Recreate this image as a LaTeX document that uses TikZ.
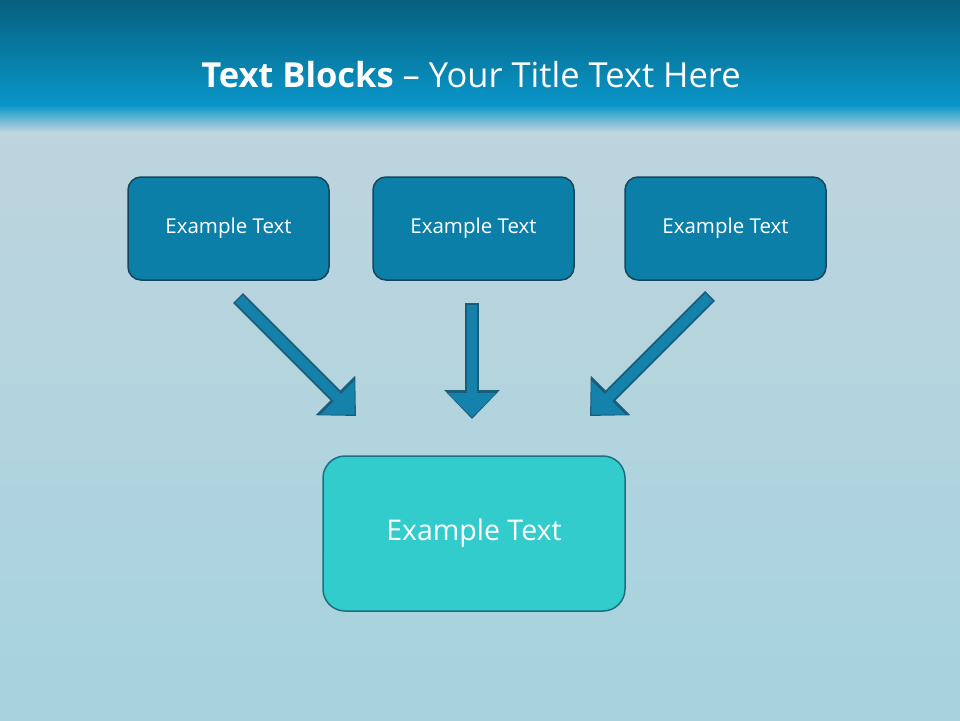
\documentclass[tikz,border=0pt]{standalone}
\usepackage{fontspec}
\setmainfont{Open Sans}
\usetikzlibrary{arrows.meta,calc}
\definecolor{bg}{HTML}{B3CCD8}
\definecolor{hdtop}{HTML}{07607F}
\definecolor{hdbot}{HTML}{0896C8}
\definecolor{boxfill}{HTML}{0B7FA8}
\definecolor{boxline}{HTML}{16465C}
\definecolor{teal}{HTML}{33CCCC}
\definecolor{tealline}{HTML}{1A6F82}
\definecolor{arrfill}{HTML}{1482AB}
\definecolor{arrline}{HTML}{1A5D78}
\tikzset{
  topbox/.style={draw=boxline, line width=1.5pt, fill=boxfill, rounded corners=13pt,
    minimum width=201pt, minimum height=103pt, text=white, font=\fontsize{20.5}{24}\selectfont},
  bigbox/.style={draw=tealline, line width=1.5pt, fill=teal, rounded corners=22pt,
    minimum width=302pt, minimum height=155pt, text=white, font=\fontsize{28.5}{34}\selectfont},
  arrout/.style={draw=arrline, line width=14pt, -{Triangle[width=54pt,length=29pt]}},
  arrin/.style={draw=arrfill, line width=10pt, shorten >=2pt, -{Triangle[width=47pt,length=24pt]}},
}
\begin{document}
\begin{tikzpicture}[x=1pt,y=-1pt]
\useasboundingbox (0,0) rectangle (960,720);
\fill[bg] (0,0) rectangle (960,720);
\shade[top color=bg!85!white, bottom color=bg!90!cyan!95!white] (0,120) rectangle (960,720);
\shade[top color=hdtop, bottom color=hdbot] (0,0) rectangle (960,105);
\shade[top color=hdbot, bottom color=bg!85!white] (0,105) rectangle (960,132);
\node[text=white, font=\fontsize{34.5}{40}\selectfont] (title) at (471,75) {\textbf{Text Blocks} – Your Title Text Here};
\node[topbox] (b1) at (228.5,228.5) {Example Text};
\node[topbox] (b2) at (473.5,228.5) {Example Text};
\node[topbox] (b3) at (725.5,228.5) {Example Text};
\node[bigbox] (b4) at (474,533.5) {Example Text};
\coordinate (a1s) at (238,298); \coordinate (a1e) at (356,416);
\coordinate (a2s) at (472,303); \coordinate (a2e) at (472,419);
\coordinate (a3s) at (710,296); \coordinate (a3e) at (590,416);
\foreach \s/\e in {a1s/a1e,a2s/a2e,a3s/a3e}{
  \draw[arrout] (\s) -- (\e);
  \draw[arrin] ($(\s)!1.5pt!(\e)$) -- (\e);
}
\end{tikzpicture}
\end{document}
